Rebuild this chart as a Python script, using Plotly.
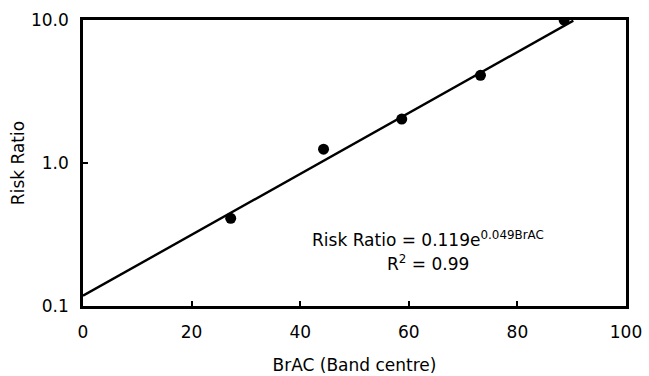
import plotly.graph_objects as go

brac = [27.2, 44.3, 58.7, 73.2, 88.6]
risk_ratio = [0.41, 1.25, 2.03, 4.1, 10.0]
fit_x = [0, 90.3]
fit_y = [0.118, 9.9]
x_ticks = [0, 20, 40, 60, 80, 100]
y_ticks = [0.1, 1.0, 10.0]
y_tick_labels = ["0.1", "1.0", "10.0"]

font_family = "DejaVu Sans, Arial, sans-serif"
fs = 17

fig = go.Figure()
fig.add_trace(go.Scatter(x=fit_x, y=fit_y, mode="lines",
                         line=dict(color="black", width=2.4), showlegend=False))
fig.add_trace(go.Scatter(x=brac, y=risk_ratio, mode="markers",
                         marker=dict(color="black", size=11), showlegend=False))

fig.add_annotation(x=0.635, y=0.19, xref="paper", yref="paper",
                   text="Risk Ratio = 0.119e<sup>0.049BrAC</sup>", showarrow=False,
                   font=dict(size=fs, color="black", family=font_family))
fig.add_annotation(x=0.635, y=0.105, xref="paper", yref="paper",
                   text="R<sup>2</sup> = 0.99", showarrow=False,
                   font=dict(size=fs, color="black", family=font_family))

axis_common = dict(showline=True, linecolor="black", linewidth=2.5, mirror=True,
                   ticks="inside", ticklen=5, tickwidth=1.5, tickcolor="black",
                   showgrid=False, zeroline=False, automargin=False,
                   tickfont=dict(size=fs, color="black", family=font_family))

fig.update_xaxes(range=[0, 100], tickvals=x_ticks, ticklabelstandoff=9,
                 title=dict(text="BrAC (Band centre)", standoff=18,
                            font=dict(size=fs, color="black", family=font_family)),
                 **axis_common)
fig.update_yaxes(type="log", range=[-1, 1], tickvals=y_ticks, ticktext=y_tick_labels,
                 ticklabelstandoff=8,
                 title=dict(text="Risk Ratio", standoff=3,
                            font=dict(size=fs, color="black", family=font_family)),
                 **axis_common)

fig.update_layout(width=649, height=376, margin=dict(l=83, r=23, t=20, b=70),
                  plot_bgcolor="white", paper_bgcolor="white")

fig.write_html("out.html")
